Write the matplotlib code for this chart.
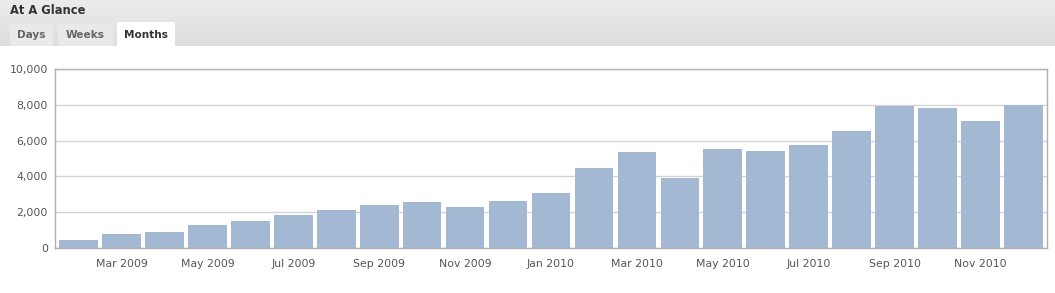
import matplotlib
matplotlib.use("Agg")
import matplotlib.pyplot as plt
from matplotlib.patches import Rectangle
from matplotlib.colors import LinearSegmentedColormap
import numpy as np

months = ["Feb 2009", "Mar 2009", "Apr 2009", "May 2009", "Jun 2009", "Jul 2009",
          "Aug 2009", "Sep 2009", "Oct 2009", "Nov 2009", "Dec 2009", "Jan 2010",
          "Feb 2010", "Mar 2010", "Apr 2010", "May 2010", "Jun 2010", "Jul 2010",
          "Aug 2010", "Sep 2010", "Oct 2010", "Nov 2010", "Dec 2010"]
values = [450, 760, 870, 1270, 1490, 1820, 2100, 2400, 2590, 2270, 2610, 3090,
          4450, 5380, 3890, 5530, 5420, 5740, 6540, 7950, 7840, 7110, 7970]
ytick_values = [0, 2000, 4000, 6000, 8000, 10000]
title = "At A Glance"
tabs = ["Days", "Weeks", "Months"]

W, H = 1055, 293
fig = plt.figure(figsize=(W / 100, H / 100), dpi=100)
fig.patch.set_facecolor("white")

# header background (gradient)
hdr = fig.add_axes([0, 1 - 46 / H, 1, 46 / H])
grad = np.linspace(0, 1, 50).reshape(-1, 1)
cm = LinearSegmentedColormap.from_list("g", ["#ebebeb", "#dedede"])
hdr.imshow(grad, aspect="auto", cmap=cm, extent=[0, W, 46, 0])
hdr.set_xlim(0, W)
hdr.set_ylim(46, 0)
hdr.axis("off")
# tabs
tab_geo = [(10, 53, "#e9e9e9", "#666666"), (58, 113, "#e9e9e9", "#666666"),
           (117, 175, "#ffffff", "#333333")]
for (x0, x1, fc, tc), name in zip(tab_geo, tabs):
    top = 22 if fc == "#ffffff" else 24
    hdr.add_patch(Rectangle((x0, top), x1 - x0, 46 - top, facecolor=fc,
                            edgecolor="none"))
    hdr.text((x0 + x1) / 2, 35, name, ha="center", va="center", fontsize=7.6,
             fontweight="bold", color=tc, family="DejaVu Sans")
hdr.text(10, 11, title, ha="left", va="center", fontsize=8.3,
         fontweight="bold", color="#333333", family="DejaVu Sans")

ax = fig.add_axes([55 / W, 45 / H, (1047 - 55) / W, (248 - 69) / H])
x = np.arange(len(values))
ax.bar(x, values, width=0.9, color="#a3b9d3", zorder=2)
ax.set_xlim(-0.55, len(values) - 0.45)
ax.set_ylim(0, 10000)
ax.set_yticks(ytick_values)
ax.set_yticklabels([f"{v:,}" for v in ytick_values])
ax.set_xticks(x[1::2])
ax.set_xticklabels(months[1::2])
ax.yaxis.grid(True, color="#d4d4d4", linewidth=1, zorder=0)
for s in ax.spines.values():
    s.set_color("#b0b0b0")
    s.set_linewidth(1)
ax.tick_params(axis="both", length=0, labelsize=7.8, colors="#555555")
ax.tick_params(axis="x", pad=8)
ax.tick_params(axis="y", pad=5)

fig.savefig("out.png", dpi=100)
